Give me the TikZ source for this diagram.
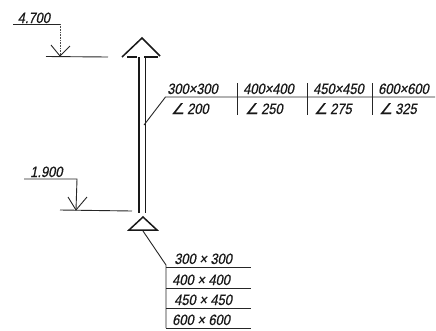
\documentclass[tikz,border=0pt]{standalone}
\usepackage{fontspec}
\setmainfont{Liberation Sans}
\newfontfamily\labfont[FakeStretch=.86,FakeSlant=.2,FakeBold=.5]{Liberation Sans}
\newfontfamily\angfont[FakeSlant=.15,FakeBold=.5]{DejaVu Sans}
\newcommand{\ang}{{\angfont\char"2220}}
\tikzset{
 lab/.style={inner sep=0pt,anchor=base west,font=\fontsize{15}{16}\labfont,text=black!90},
 ln/.style={draw=black!85,line width=0.9pt},
 thick ln/.style={draw=black!90,line width=1.5pt},
 thin ln/.style={draw=black!70,line width=0.6pt}
}
\begin{document}
\begin{tikzpicture}[x=1pt,y=-1pt]
\useasboundingbox[fill=white] (0,0) rectangle (436,330);
% coordinates
\coordinate (a1) at (13,24); \coordinate (a2) at (60,24); \coordinate (a3) at (60,56);
\coordinate (a4) at (51,45); \coordinate (a5) at (70,46);
\coordinate (a6) at (46,56.5); \coordinate (a7) at (108,57);
\coordinate (t1) at (122,57); \coordinate (t2) at (142,38); \coordinate (t3) at (160,56);
\coordinate (b1) at (127,57); \coordinate (b2) at (137,57); \coordinate (b3) at (144,57); \coordinate (b4) at (158,57);
\coordinate (s1) at (138.8,57); \coordinate (s2) at (138.8,213);
\coordinate (s3) at (145.5,57); \coordinate (s4) at (145.5,213);
\coordinate (l1) at (144,125); \coordinate (l2) at (165.5,97); \coordinate (l3) at (435,97);
\coordinate (d1) at (237,83); \coordinate (d2) at (237,115);
\coordinate (d3) at (307,83); \coordinate (d4) at (307,115);
\coordinate (d5) at (372,83); \coordinate (d6) at (372,115);
\coordinate (c1) at (24,179); \coordinate (c2) at (77,179); \coordinate (c3) at (76,210);
\coordinate (c4) at (68,197); \coordinate (c5) at (87,197);
\coordinate (c6) at (60,210); \coordinate (c7) at (132,211);
\coordinate (p1) at (129,230); \coordinate (p2) at (143,217); \coordinate (p3) at (157,230);
\coordinate (q1) at (143,231); \coordinate (q2) at (166,265); \coordinate (q3) at (166,328);
\coordinate (r1) at (166,267); \coordinate (r1e) at (251,267);
\coordinate (r2) at (166,288); \coordinate (r2e) at (251,288);
\coordinate (r3) at (166,308); \coordinate (r3e) at (251,308);
\coordinate (r4) at (166,328); \coordinate (r4e) at (251,328);
% upper level mark
\draw[ln] (a1) -- (a2);
\draw[thin ln,densely dotted] (a2) -- (a3);
\draw[ln] (a4) -- (a3) -- (a5);
\draw[ln] (a6) -- (a7);
% top arrow
\draw[thick ln] (t1) -- (t2) -- (t3);
\draw[line width=1.8pt,black!90] (b1) -- (b2) (b3) -- (b4);
\draw[thick ln] (s1) -- (s2) (s3) -- (s4);
% upper table
\draw[ln] (l1) -- (l2) -- (l3);
\draw[ln] (d1) -- (d2) (d3) -- (d4) (d5) -- (d6);
% lower level mark
\draw[ln] (c1) -- (c2) -- (c3);
\draw[ln] (c4) -- (c3) -- (c5);
\draw[ln] (c6) -- (c7);
% lower triangle
\draw[thick ln] (p1) -- (p2) -- (p3) -- cycle;
% lower table
\draw[ln] (q1) -- (q2) -- (q3);
\draw[ln] (r1) -- (r1e) (r2) -- (r2e) (r3) -- (r3e) (r4) -- (r4e);
% labels
\node[lab] (n1) at (17.5,23) {4.700};
\node[lab] (n2) at (30,177) {1.900};
\node[lab] (u1) at (167,94) {300×300};
\node[lab] (u2) at (243,94) {400×400};
\node[lab] (u3) at (313,94) {450×450};
\node[lab] (u4) at (378,94) {600×600};
\node[lab] (v1) at (171,114) {\ang\,200};
\node[lab] (v2) at (245,114) {\ang\,250};
\node[lab] (v3) at (314,114) {\ang\,275};
\node[lab] (v4) at (379,114) {\ang\,325};
\node[lab] (w1) at (174,264) {300 × 300};
\node[lab] (w2) at (172,285) {400 × 400};
\node[lab] (w3) at (174,305) {450 × 450};
\node[lab] (w4) at (172,325) {600 × 600};
\end{tikzpicture}
\end{document}
